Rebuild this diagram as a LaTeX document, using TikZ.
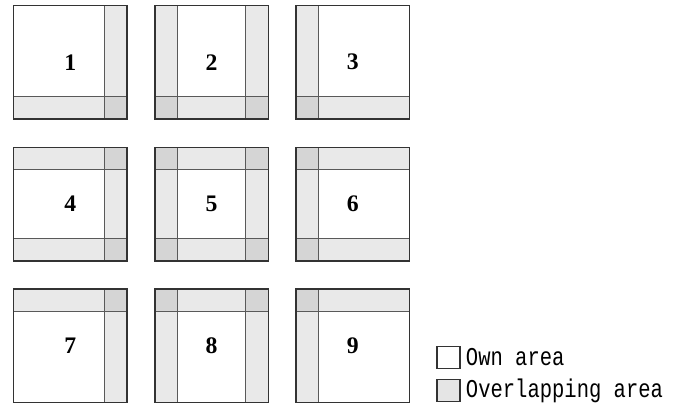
\documentclass[tikz,border=0pt]{standalone}
\usepackage{fontspec}
\setmainfont{Liberation Serif}
\newfontfamily\legendfont[FakeStretch=0.8]{Liberation Mono}

\begin{document}
\begin{tikzpicture}[x=0.02cm,y=-0.02cm,
    strip/.style={fill=black,fill opacity=0.085},
    sepline/.style={draw=black!65,line width=0.6pt},
    frame/.style={draw=black!80,line width=0.85pt},
    num/.style={font=\fontsize{13.5}{15}\selectfont\bfseries},
    keybox/.style={draw=black!80,line width=0.7pt,minimum width=0.46cm,minimum height=0.43cm,inner sep=0pt},
    keytext/.style={font=\legendfont\fontsize{14.6}{16}\selectfont,anchor=west,inner sep=0pt,xshift=0.1cm}]
  \useasboundingbox (0,0) rectangle (682,405);

  % the nine tiles
  \foreach \n/\c/\r in {1/0/0,2/1/0,3/2/0,4/0/1,5/1/1,6/2/1,7/0/2,8/1/2,9/2/2}{
    \pgfmathsetmacro\xa{13.5+141.3*\c}
    \pgfmathsetmacro\ya{5.5+141.8*\r}
    \pgfmathsetmacro\xb{\xa+113.5}
    \pgfmathsetmacro\yb{\ya+113.5}
    \pgfmathsetmacro\xl{\xa+22.5}
    \pgfmathsetmacro\xr{\xb-22.5}
    \pgfmathsetmacro\yt{\ya+22.5}
    \pgfmathsetmacro\yd{\yb-22.5}
    % overlapping strips
    \ifnum\c>0 \fill[strip] (\xa,\ya) rectangle (\xl,\yb); \fi
    \ifnum\c<2 \fill[strip] (\xr,\ya) rectangle (\xb,\yb); \fi
    \ifnum\r>0 \fill[strip] (\xa,\ya) rectangle (\xb,\yt); \fi
    \ifnum\r<2 \fill[strip] (\xa,\yd) rectangle (\xb,\yb); \fi
    % strip borders
    \ifnum\c>0 \draw[sepline] (\xl,\ya) -- (\xl,\yb); \fi
    \ifnum\c<2 \draw[sepline] (\xr,\ya) -- (\xr,\yb); \fi
    \ifnum\r>0 \draw[sepline] (\xa,\yt) -- (\xb,\yt); \fi
    \ifnum\r<2 \draw[sepline] (\xa,\yd) -- (\xb,\yd); \fi
    \draw[frame] (\xa,\ya) rectangle (\xb,\yb);
    \node[num] (tile\n) at ({(\xa+\xb)/2},{(\ya+\yb)/2}) {\n};
  }

  % legend
  \node[keybox] (ownkey) at (448.5,357.5) {};
  \node[keybox,fill=black,fill opacity=0.1,text opacity=1] (overkey) at (448.5,390.5) {};
  \node[keytext] (owntext) at (ownkey.east) {Own area};
  \node[keytext] (overtext) at (overkey.east) {Overlapping area};
\end{tikzpicture}
\end{document}
